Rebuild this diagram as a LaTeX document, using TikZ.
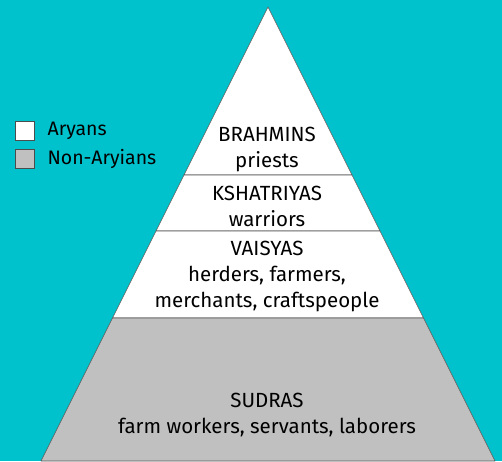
\documentclass[tikz,border=0pt]{standalone}
\usepackage{fontspec}
\setmainfont{Fira Sans}
\usetikzlibrary{positioning}
\definecolor{sea}{RGB}{0,194,204}
\definecolor{lowgrey}{RGB}{192,192,192}

\begin{document}
\begin{tikzpicture}[x=1pt, y=-1pt,
    layer/.style={draw=black!65, line width=0.6pt, line join=round},
    caste/.style={align=center, font=\fontsize{20.5}{26}\selectfont, text=black},
    keybox/.style={rectangle, draw=black!70, line width=0.8pt, minimum size=19pt, inner sep=0pt},
    keytext/.style={font=\fontsize{19.5}{20}\selectfont, text=black, inner sep=0pt}]
    \useasboundingbox (0,0) rectangle (502,461);
    \fill[sea] (0,0) rectangle (502,461);

    % edges of the pyramid at each band line
    \coordinate (apex) at (268,7);
    \coordinate (l1) at (184,175);   \coordinate (r1) at (352,175);
    \coordinate (l2) at (156,231);   \coordinate (r2) at (380,231);
    \coordinate (l3) at (112.5,318); \coordinate (r3) at (423.5,318);
    \coordinate (l4) at (41,461);    \coordinate (r4) at (495,461);

    \filldraw [layer, fill=white] (apex) -- (r1) -- (l1) -- cycle;
    \filldraw [layer, fill=white] (l1) -- (r1) -- (r2) -- (l2) -- cycle;
    \filldraw [layer, fill=white] (l2) -- (r2) -- (r3) -- (l3) -- cycle;
    \filldraw [layer, fill=lowgrey] (l3) -- (r3) -- (r4) -- (l4) -- cycle;

    \node (brahmins) [caste] at (267,149.5) {BRAHMINS\\priests};
    \node (kshatriyas) [caste] at (267,206.5) {KSHATRIYAS\\warriors};
    \node (vaisyas) [caste] at (267,276.5) {VAISYAS\\herders, farmers,\\merchants, craftspeople};
    \node (sudras) [caste] at (267,415) {SUDRAS\\farm workers, servants, laborers};

    % key
    \node (whitekey) [keybox, fill=white] at (24.5,131) {};
    \node (greykey) [keybox, fill=lowgrey, below=8pt of whitekey] {};
    \node (aryans) [keytext, right=13pt of whitekey] {Aryans};
    \node (nonaryans) [keytext, right=13pt of greykey] {Non-Aryians};
\end{tikzpicture}
\end{document}
